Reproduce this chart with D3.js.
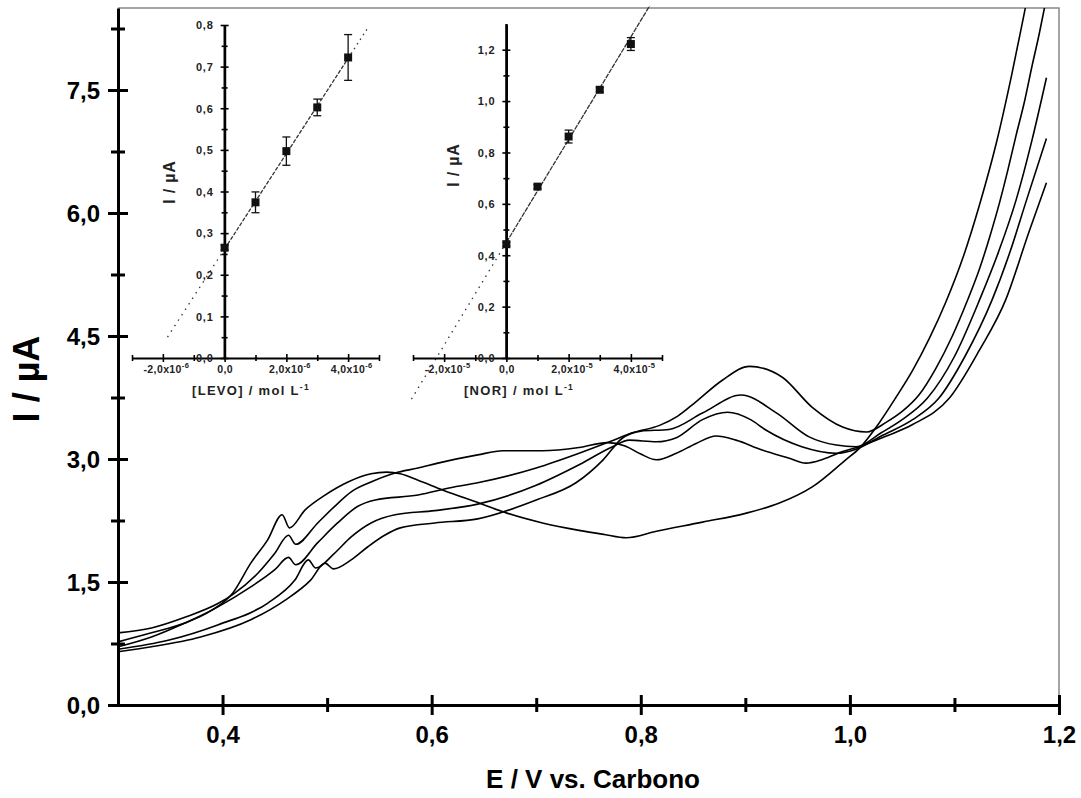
<!DOCTYPE html>
<html>
<head>
<meta charset="UTF-8">
<script src="https://d3js.org/d3.v7.min.js"></script>
<style>
  body { margin: 0; background: #fff; }
  svg { display: block; font-family: "Liberation Sans", Arial, sans-serif; }
</style>
</head>
<body>
<div id="chart"></div>
<script>
// voltammograms, [E / V, I / uA]
var curve1 = [[0.300,0.77],[0.332,0.88],[0.364,1.00],[0.389,1.15],[0.410,1.37],[0.427,1.73],[0.443,2.01],[0.457,2.32],[0.464,2.16],[0.479,2.38],[0.498,2.56],[0.520,2.72],[0.542,2.82],[0.557,2.84],[0.570,2.82],[0.587,2.74],[0.611,2.62],[0.646,2.46],[0.672,2.34],[0.706,2.22],[0.741,2.13],[0.765,2.08],[0.786,2.04],[0.815,2.12],[0.859,2.23],[0.901,2.34],[0.932,2.46],[0.964,2.66],[0.996,2.99],[1.009,3.13],[1.028,3.44],[1.044,3.75],[1.060,4.08],[1.076,4.47],[1.092,4.92],[1.108,5.45],[1.124,6.10],[1.140,6.85],[1.155,7.70],[1.167,8.45],[1.175,8.95]];
var curve2 = [[0.300,0.88],[0.332,0.94],[0.364,1.07],[0.396,1.24],[0.410,1.35],[0.434,1.61],[0.450,1.85],[0.463,2.07],[0.470,1.96],[0.491,2.22],[0.507,2.42],[0.523,2.60],[0.542,2.72],[0.565,2.83],[0.587,2.89],[0.606,2.95],[0.644,3.05],[0.668,3.10],[0.706,3.10],[0.741,3.14],[0.768,3.20],[0.785,3.16],[0.800,3.06],[0.815,2.99],[0.834,3.07],[0.853,3.19],[0.872,3.28],[0.891,3.23],[0.916,3.11],[0.942,3.01],[0.958,2.95],[0.975,3.00],[0.993,3.09],[1.009,3.15],[1.035,3.28],[1.060,3.42],[1.095,3.74],[1.124,4.33],[1.149,4.94],[1.171,5.76],[1.188,6.37]];
var curve3 = [[0.300,0.71],[0.332,0.83],[0.364,1.00],[0.396,1.20],[0.427,1.44],[0.450,1.65],[0.463,1.80],[0.470,1.71],[0.491,1.98],[0.510,2.22],[0.529,2.42],[0.546,2.50],[0.587,2.56],[0.618,2.65],[0.644,2.71],[0.700,2.89],[0.741,3.07],[0.770,3.21],[0.792,3.32],[0.818,3.41],[0.835,3.52],[0.853,3.70],[0.878,3.96],[0.904,4.13],[0.935,4.00],[0.964,3.63],[0.993,3.39],[1.016,3.33],[1.035,3.45],[1.050,3.58],[1.066,3.78],[1.082,4.10],[1.098,4.50],[1.112,4.92],[1.124,5.32],[1.134,5.72],[1.143,6.12],[1.151,6.52],[1.159,6.95],[1.167,7.36],[1.174,7.78],[1.181,8.18],[1.188,8.62]];
var curve4 = [[0.300,0.68],[0.348,0.79],[0.396,0.98],[0.443,1.24],[0.469,1.52],[0.482,1.77],[0.489,1.67],[0.507,1.85],[0.523,2.05],[0.542,2.22],[0.565,2.32],[0.603,2.37],[0.644,2.45],[0.700,2.68],[0.741,2.93],[0.773,3.15],[0.789,3.23],[0.815,3.21],[0.834,3.26],[0.859,3.48],[0.883,3.57],[0.905,3.48],[0.920,3.35],[0.954,3.15],[0.987,3.07],[1.006,3.12],[1.030,3.28],[1.060,3.48],[1.085,3.74],[1.110,4.25],[1.136,4.94],[1.153,5.52],[1.169,6.16],[1.188,6.91]];
var curve5 = [[0.300,0.65],[0.332,0.71],[0.379,0.83],[0.427,1.04],[0.460,1.28],[0.484,1.52],[0.498,1.73],[0.506,1.66],[0.523,1.77],[0.539,1.93],[0.555,2.07],[0.570,2.16],[0.603,2.22],[0.644,2.27],[0.700,2.50],[0.738,2.71],[0.764,2.99],[0.782,3.25],[0.800,3.34],[0.827,3.36],[0.859,3.56],[0.896,3.78],[0.930,3.56],[0.961,3.27],[0.987,3.17],[1.006,3.15],[1.030,3.32],[1.050,3.48],[1.074,3.74],[1.100,4.25],[1.124,4.94],[1.142,5.52],[1.159,6.16],[1.174,6.88],[1.188,7.65]];

var xTicksMajor = [0.4, 0.6, 0.8, 1.0, 1.2];
var xTicksMinor = [0.5, 0.7, 0.9, 1.1];
var yTicksMajor = [0, 1.5, 3, 4.5, 6, 7.5];
var yTicksMinor = [0.75, 2.25, 3.75, 5.25, 6.75, 8.25];

// inset 1: LEVO calibration
var levoConc = [0, 1e-6, 2e-6, 3e-6, 4e-6];
var levoCurrent = [0.265, 0.374, 0.497, 0.602, 0.722];
var levoError = [0.006, 0.025, 0.034, 0.02, 0.055];
var levoFit = [0.262, 114500];   // intercept, slope
var levoYMajor = [0, 0.1, 0.2, 0.3, 0.4, 0.5, 0.6, 0.7, 0.8];
var levoYMinor = [0.05, 0.15, 0.25, 0.35, 0.45, 0.55, 0.65, 0.75];
var levoXMajor = [-2e-6, 0, 2e-6, 4e-6];
var levoXMinor = [-3e-6, -1e-6, 1e-6, 3e-6, 5e-6];

// inset 2: NOR calibration
var norConc = [0, 1e-5, 2e-5, 3e-5, 4e-5];
var norCurrent = [0.443, 0.667, 0.862, 1.044, 1.222];
var norError = [0.008, 0.008, 0.025, 0.008, 0.025];
var norFit = [0.45, 20000];
var norYMajor = [0, 0.2, 0.4, 0.6, 0.8, 1.0, 1.2];
var norYMinor = [0.1, 0.3, 0.5, 0.7, 0.9, 1.1];
var norXMajor = [-2e-5, 0, 2e-5, 4e-5];
var norXMinor = [-3e-5, -1e-5, 1e-5, 3e-5, 5e-5];

var width = 1081, height = 798;
var svg = d3.select("#chart").append("svg")
  .attr("width", width).attr("height", height);

var fmt = function(v) { return d3.format(".1f")(v).replace(".", ",").replace("−", "-"); };

var x = d3.scaleLinear().domain([0.3, 1.2]).range([118, 1059]);
var y = d3.scaleLinear().domain([0, 8.5]).range([705, 8]);

// frame (top and right)
svg.append("path")
  .attr("d", "M" + x(0.3) + "," + y(8.5) + "H" + x(1.2) + "V" + y(0))
  .attr("fill", "none").attr("stroke", "#888").attr("stroke-width", 1.5);

// curves
svg.append("clipPath").attr("id", "clip").append("rect")
  .attr("x", x(0.3)).attr("y", y(8.5))
  .attr("width", x(1.2) - x(0.3)).attr("height", y(0) - y(8.5));

var line = d3.line()
  .x(function(d) { return x(d[0]); })
  .y(function(d) { return y(d[1]); })
  .curve(d3.curveMonotoneX);

svg.append("g").attr("clip-path", "url(#clip)")
  .selectAll("path")
  .data([curve1, curve2, curve3, curve4, curve5])
  .enter().append("path")
  .attr("d", line)
  .attr("fill", "none")
  .attr("stroke", "#000")
  .attr("stroke-width", 1.6);

// x axis
var gx = svg.append("g").attr("transform", "translate(0," + y(0) + ")");
gx.call(d3.axisBottom(x).tickValues(xTicksMajor).tickSizeOuter(0).tickFormat(fmt));
gx.select(".domain").attr("stroke-width", 3);
gx.selectAll(".tick line").attr("y1", -10).attr("y2", 10).attr("stroke-width", 3);
gx.selectAll(".tick text")
  .attr("y", 38).attr("dy", null)
  .attr("font-size", 24).attr("font-weight", "bold")
  .attr("font-family", "'Liberation Sans Narrow', 'Liberation Sans', Arial, sans-serif")
  .attr("fill", "#000");
var gx2 = svg.append("g").attr("transform", "translate(0," + y(0) + ")");
gx2.call(d3.axisBottom(x).tickValues(xTicksMinor).tickSizeOuter(0).tickFormat(""));
gx2.select(".domain").remove();
gx2.selectAll(".tick line").attr("y1", -7).attr("y2", 7).attr("stroke-width", 3);

// y axis
var gy = svg.append("g").attr("transform", "translate(" + x(0.3) + ",0)");
gy.call(d3.axisLeft(y).tickValues(yTicksMajor).tickSizeOuter(0).tickFormat(fmt));
gy.select(".domain").attr("stroke-width", 3);
gy.selectAll(".tick line").attr("x1", 10).attr("x2", -10).attr("stroke-width", 3);
gy.selectAll(".tick text")
  .attr("x", -18).attr("dy", "0.36em")
  .attr("font-size", 24).attr("font-weight", "bold").attr("fill", "#000");
var gy2 = svg.append("g").attr("transform", "translate(" + x(0.3) + ",0)");
gy2.call(d3.axisLeft(y).tickValues(yTicksMinor).tickSizeOuter(0).tickFormat(""));
gy2.select(".domain").remove();
gy2.selectAll(".tick line").attr("x1", 7).attr("x2", -7).attr("stroke-width", 3);

// axis titles
svg.append("text")
  .attr("x", 593).attr("y", 788)
  .attr("text-anchor", "middle")
  .attr("font-size", 26).attr("font-weight", "bold")
  .text("E / V vs. Carbono");
svg.append("text")
  .attr("transform", "translate(39,379) rotate(-90)")
  .attr("text-anchor", "middle")
  .attr("font-size", 36).attr("font-weight", "bold")
  .text("I / µA");

// insets
function drawInset(o) {
  var g = svg.append("g");
  var ix = d3.scaleLinear().domain(o.xDomain).range(o.xRange);
  var iy = d3.scaleLinear().domain(o.yDomain).range(o.yRange);
  var ink = "#222";

  // fit line
  var fitLine = d3.line()
    .x(function(d) { return ix(d); })
    .y(function(d) { return iy(o.fit[0] + o.fit[1] * d); });
  o.fitSegments.forEach(function(s) {
    g.append("path")
      .attr("d", fitLine(s.range))
      .attr("fill", "none").attr("stroke", "#333")
      .attr("stroke-width", 1.3)
      .attr("stroke-dasharray", s.dash);
  });

  // x axis
  var ax = g.append("g").attr("transform", "translate(0," + iy(0) + ")");
  ax.call(d3.axisBottom(ix).tickValues(o.xMajor).tickSizeOuter(0).tickFormat(""));
  ax.select(".domain").attr("stroke-width", 2);
  ax.selectAll(".tick line").attr("y1", -4).attr("y2", 4).attr("stroke-width", 1.6);
  var ax2 = g.append("g").attr("transform", "translate(0," + iy(0) + ")");
  ax2.call(d3.axisBottom(ix).tickValues(o.xMinor).tickSizeOuter(0).tickFormat(""));
  ax2.select(".domain").remove();
  ax2.selectAll(".tick line").attr("y1", -3).attr("y2", 3).attr("stroke-width", 1.6);
  ax.selectAll(".tick").each(function(d) {
    var t = d3.select(this).append("text")
      .attr("y", 15).attr("text-anchor", "middle")
      .attr("font-size", 10.5).attr("font-weight", "bold")
      .attr("fill", ink).attr("letter-spacing", 0.4);
    if (d === 0) { t.text("0,0"); return; }
    var m = d / Math.pow(10, o.exp);
    t.attr("dx", 3);
    t.append("tspan").text(fmt(m) + "x10");
    t.append("tspan").attr("dy", -5).attr("font-size", 7.5).text("-" + (-o.exp));
  });

  // y axis
  var ay = g.append("g").attr("transform", "translate(" + ix(0) + ",0)");
  ay.call(d3.axisLeft(iy).tickValues(o.yMajor).tickSizeOuter(0).tickFormat(fmt));
  ay.select(".domain").attr("stroke-width", 2.2);
  ay.selectAll(".tick line").attr("x1", 4).attr("x2", -4).attr("stroke-width", 1.6);
  ay.selectAll(".tick text")
    .attr("x", -11).attr("dy", "0.35em")
    .attr("font-size", 11).attr("font-weight", "bold")
    .attr("font-family", "'Liberation Sans', Arial, sans-serif")
    .attr("fill", ink).attr("letter-spacing", 0.8);
  var ay2 = g.append("g").attr("transform", "translate(" + ix(0) + ",0)");
  ay2.call(d3.axisLeft(iy).tickValues(o.yMinor).tickSizeOuter(0).tickFormat(""));
  ay2.select(".domain").remove();
  ay2.selectAll(".tick line").attr("x1", 3).attr("x2", -3).attr("stroke-width", 1.6);
  // extend the vertical axis to the top of its range
  g.append("line")
    .attr("x1", ix(0)).attr("x2", ix(0))
    .attr("y1", o.yRange[1]).attr("y2", iy(0))
    .attr("stroke", "#000").attr("stroke-width", 2.2);

  // error bars and squares
  var pts = o.conc.map(function(c, i) { return [c, o.current[i], o.error[i]]; });
  var eb = g.append("g").attr("stroke", "#111").attr("stroke-width", 1.3);
  pts.forEach(function(p) {
    var cx = ix(p[0]);
    eb.append("line").attr("x1", cx).attr("x2", cx)
      .attr("y1", iy(p[1] - p[2])).attr("y2", iy(p[1] + p[2]));
    eb.append("line").attr("x1", cx - 4).attr("x2", cx + 4)
      .attr("y1", iy(p[1] - p[2])).attr("y2", iy(p[1] - p[2]));
    eb.append("line").attr("x1", cx - 4).attr("x2", cx + 4)
      .attr("y1", iy(p[1] + p[2])).attr("y2", iy(p[1] + p[2]));
  });
  g.selectAll("rect.pt").data(pts).enter().append("rect")
    .attr("class", "pt")
    .attr("x", function(d) { return ix(d[0]) - 4; })
    .attr("y", function(d) { return iy(d[1]) - 4; })
    .attr("width", 8).attr("height", 8)
    .attr("fill", "#111");

  // titles
  var xt = g.append("text")
    .attr("x", o.xTitle[0]).attr("y", o.xTitle[1])
    .attr("text-anchor", "middle")
    .attr("font-size", 13).attr("font-weight", "bold")
    .attr("fill", ink).attr("letter-spacing", 1.3);
  xt.append("tspan").text(o.label + " / mol L");
  xt.append("tspan").attr("dy", -5).attr("font-size", 8.5).text("-1");
  g.append("text")
    .attr("transform", "translate(" + o.yTitle[0] + "," + o.yTitle[1] + ") rotate(-90)")
    .attr("text-anchor", "middle")
    .attr("font-size", 16).attr("font-weight", "bold")
    .attr("fill", ink).attr("letter-spacing", 0.8)
    .text("I / µA");
}

drawInset({
  xDomain: [-3e-6, 5e-6], xRange: [132, 379],
  yDomain: [0, 0.8], yRange: [358, 25],
  xMajor: levoXMajor, xMinor: levoXMinor,
  yMajor: levoYMajor, yMinor: levoYMinor,
  exp: -6,
  conc: levoConc, current: levoCurrent, error: levoError,
  fit: levoFit,
  fitSegments: [
    { range: [-1.85e-6, 0], dash: "1.5,5" },
    { range: [0, 4e-6], dash: "4,1.5" },
    { range: [4e-6, 4.65e-6], dash: "1.5,4" }
  ],
  label: "[LEVO]",
  xTitle: [251, 395], yTitle: [175, 182]
});

drawInset({
  xDomain: [-3e-5, 5e-5], xRange: [413, 662],
  yDomain: [0, 1.3], yRange: [358, 24],
  xMajor: norXMajor, xMinor: norXMinor,
  yMajor: norYMajor, yMinor: norYMinor,
  exp: -5,
  conc: norConc, current: norCurrent, error: norError,
  fit: norFit,
  fitSegments: [
    { range: [-3.05e-5, 0], dash: "1.5,5" },
    { range: [0, 4.6e-5], dash: "5,1" }
  ],
  label: "[NOR]",
  xTitle: [519, 395], yTitle: [459, 165]
});
</script>
</body>
</html>
